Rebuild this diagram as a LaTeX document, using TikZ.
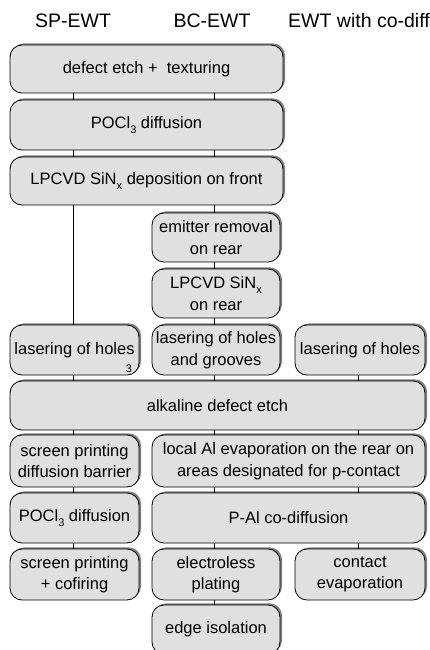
\documentclass[tikz,border=0pt]{standalone}
\usepackage{fontspec}
\setmainfont{Liberation Sans}
\usetikzlibrary{shadows}
\definecolor{boxfill}{RGB}{224,224,224}
\definecolor{shadowgray}{RGB}{128,128,128}
\newcommand{\sbs}[1]{\raisebox{-0.3em}{\fontsize{11}{11}\selectfont #1}}
\tikzset{
  stepbox/.style={draw=black, line width=0.8pt, fill=boxfill, rounded corners=12pt,
    inner sep=0pt, align=center, font=\fontsize{16.5}{21.5}\selectfont,
    drop shadow={shadow xshift=2pt, shadow yshift=1.6pt, fill=shadowgray, opacity=1}},
  head/.style={font=\fontsize{19.5}{22}\selectfont, inner sep=0pt},
  conn/.style={draw=black, line width=0.7pt}
}
\begin{document}
\begin{tikzpicture}[x=1pt,y=-1pt]
\useasboundingbox (0,0) rectangle (430,650);
\clip (0,0) rectangle (430,650);
% headers
\node[head] (h1) at (73,21) {SP-EWT};
\node[head] (h2) at (212,21) {BC-EWT};
\node[head] (h3) at (359,21) {EWT with co-diff};
% column x coordinates
\coordinate (c1) at (73,0);
\coordinate (c2) at (214,0);
\coordinate (c3) at (358,0);
% boxes
\node[stepbox, minimum width=273pt, minimum height=48pt] (b1) at (146.5,69) {defect etch +\ \ texturing};
\node[stepbox, minimum width=273pt, minimum height=50pt] (b2) at (146.5,125) {POCl\sbs{3} diffusion};
\node[stepbox, minimum width=273pt, minimum height=48pt] (b3) at (146.5,181) {LPCVD SiN\sbs{x} deposition on front};
\node[stepbox, minimum width=128pt, minimum height=49pt] (b4) at (216,237.5) {emitter removal\\on rear};
\node[stepbox, minimum width=128pt, minimum height=49pt] (b5) at (216,293.5) {LPCVD SiN\sbs{x}\\on rear};
\node[stepbox, minimum width=129pt, minimum height=50pt] (b6) at (74.5,350) {lasering of holes};
\node[stepbox, minimum width=128pt, minimum height=50pt] (b7) at (216,350) {lasering of holes\\and grooves};
\node[stepbox, minimum width=130pt, minimum height=50pt] (b8) at (360,350) {lasering of holes};
\node[stepbox, minimum width=415pt, minimum height=49pt] (b9) at (217.5,405.5) {alkaline defect etch};
\node[stepbox, minimum width=129pt, minimum height=52pt] (b10) at (74.5,461) {screen printing\\diffusion barrier};
\node[stepbox, minimum width=273pt, minimum height=52pt] (b11) at (288.5,461) {local Al evaporation on the rear on\\areas designated for p-contact};
\node[stepbox, minimum width=129pt, minimum height=50pt] (b12) at (74.5,518) {POCl\sbs{3} diffusion};
\node[stepbox, minimum width=273pt, minimum height=50pt] (b13) at (288.5,518) {P-Al co-diffusion};
\node[stepbox, minimum width=129pt, minimum height=51pt] (b14) at (74.5,574.5) {screen printing\\+ cofiring};
\node[stepbox, minimum width=128pt, minimum height=51pt] (b15) at (216,574.5) {electroless\\plating};
\node[stepbox, minimum width=130pt, minimum height=51pt] (b16) at (360,574.5) {contact\\evaporation};
\node[stepbox, minimum width=128pt, minimum height=49pt] (b17) at (216,629.5) {edge isolation};
% stray label
\node[font=\fontsize{11}{11}\selectfont, inner sep=0pt] (s3) at (129,369) {3};
% connectors column 1
\draw[conn] (b1.south -| c1) -- (b2.north -| c1);
\draw[conn] (b2.south -| c1) -- (b3.north -| c1);
\draw[conn] (b3.south -| c1) -- (b6.north -| c1);
\draw[conn] (b6.south -| c1) -- (b9.north -| c1);
\draw[conn] (b9.south -| c1) -- (b10.north -| c1);
\draw[conn] (b10.south -| c1) -- (b12.north -| c1);
\draw[conn] (b12.south -| c1) -- (b14.north -| c1);
% connectors column 2
\draw[conn] (b1.south -| c2) -- (b2.north -| c2);
\draw[conn] (b2.south -| c2) -- (b3.north -| c2);
\draw[conn] (b3.south -| c2) -- (b4.north -| c2);
\draw[conn] (b4.south -| c2) -- (b5.north -| c2);
\draw[conn] (b5.south -| c2) -- (b7.north -| c2);
\draw[conn] (b7.south -| c2) -- (b9.north -| c2);
\draw[conn] (b9.south -| c2) -- (b11.north -| c2);
\draw[conn] (b11.south -| c2) -- (b13.north -| c2);
\draw[conn] (b13.south -| c2) -- (b15.north -| c2);
\draw[conn] (b15.south -| c2) -- (b17.north -| c2);
% connectors column 3
\draw[conn] (b8.south -| c3) -- (b9.north -| c3);
\draw[conn] (b9.south -| c3) -- (b11.north -| c3);
\draw[conn] (b11.south -| c3) -- (b13.north -| c3);
\draw[conn] (b13.south -| c3) -- (b16.north -| c3);
\end{tikzpicture}
\end{document}
